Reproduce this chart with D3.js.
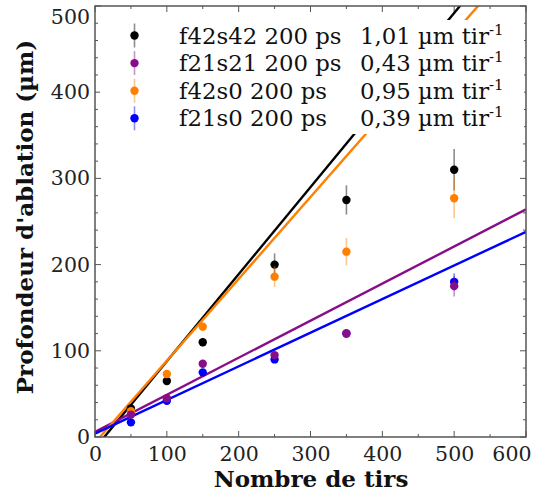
<!DOCTYPE html>
<html><head><meta charset="utf-8">
<script src="https://cdn.jsdelivr.net/npm/d3@7"></script>
<style>body{margin:0;background:#fff}</style>
</head><body>
<svg id="c" width="544" height="495"></svg>
<script>
const shots = [50, 100, 150, 250, 350, 500];
const names = ["f42s42 200 ps", "f21s21 200 ps", "f42s0 200 ps", "f21s0 200 ps"];
const rates = ["1,01", "0,43", "0,95", "0,39"];
const colors = ["#000000", "#880e88", "#ff8000", "#0000ff"];
const depthF42s42 = [33, 65, 110, 200, 275, 310];
const depthF21s21 = [26, 45, 85, 95, 120, 175];
const depthF42s0 = [30, 73, 128, 186, 215, 277];
const depthF21s0 = [17, 42, 75, 90, 120, 180];
const errF42s42 = [5, 4, 5, 13, 17, 24];
const errF21s21 = [3, 3, 3, 4, 5, 12];
const errF42s0 = [4, 4, 5, 12, 16, 23];
const errF21s0 = [3, 3, 3, 3, 4, 10];
const slopes = [1.01, 0.43, 0.95, 0.39];
const intercepts = [-13.1, 6, -6.6, 4];
const xTicks = [0, 100, 200, 300, 400, 500, 600];
const yTicks = [0, 100, 200, 300, 400, 500];

const depths = [depthF42s42, depthF21s21, depthF42s0, depthF21s0];
const errs = [errF42s42, errF21s21, errF42s0, errF21s0];

const svg = d3.select("#c");
const L = 95, R = 526, T = 6, B = 437;
const x = d3.scaleLinear().domain([0, 600]).range([L, R]);
const y = d3.scaleLinear().domain([0, 500]).range([B, T]);
const frameCol = "#555";
const serif = "'DejaVu Serif', serif";

svg.append("defs").append("clipPath").attr("id", "clip")
  .append("rect").attr("x", L).attr("y", T).attr("width", R - L).attr("height", B - T);

// ticks (inward on all sides)
const minorX = d3.range(0, 601, 50), minorY = d3.range(0, 501, 20);
const tk = svg.append("g").attr("stroke", frameCol).attr("stroke-width", 1);
minorX.forEach(v => {
  const len = v % 100 === 0 ? 6 : 3;
  tk.append("line").attr("x1", x(v)).attr("x2", x(v)).attr("y1", B).attr("y2", B - len);
  tk.append("line").attr("x1", x(v)).attr("x2", x(v)).attr("y1", T).attr("y2", T + len);
});
minorY.forEach(v => {
  const len = v % 100 === 0 ? 6 : 3;
  tk.append("line").attr("y1", y(v)).attr("y2", y(v)).attr("x1", L).attr("x2", L + len);
  tk.append("line").attr("y1", y(v)).attr("y2", y(v)).attr("x1", R).attr("x2", R - len);
});

// axes labels via d3 axes
const xAxis = svg.append("g").attr("transform", `translate(0,${B})`)
  .call(d3.axisBottom(x).tickValues(xTicks).tickSize(0).tickPadding(9).tickFormat(d3.format("d")));
const yAxis = svg.append("g").attr("transform", `translate(${L},0)`)
  .call(d3.axisLeft(y).tickValues(yTicks).tickSize(0).tickPadding(5).tickFormat(d3.format("d")));
[xAxis, yAxis].forEach(a => {
  a.select(".domain").remove();
  a.selectAll("text").attr("font-family", serif).attr("font-size", 20.5).attr("fill", "#222");
});
// keep edge labels inside the picture
xAxis.selectAll(".tick").filter(d => d === 600).select("text").attr("text-anchor", "end").attr("x", 5);
yAxis.selectAll(".tick").filter(d => d === 500).select("text").attr("dy", "0.85em");

// fit lines
const plot = svg.append("g").attr("clip-path", "url(#clip)");
slopes.forEach((s, i) => {
  plot.append("line")
    .attr("x1", x(0)).attr("y1", y(intercepts[i]))
    .attr("x2", x(600)).attr("y2", y(s * 600 + intercepts[i]))
    .attr("stroke", colors[i]).attr("stroke-width", 2.4);
});

// points with error bars
const order = [0, 2, 3, 1];
order.forEach(i => {
  const g = plot.append("g");
  shots.forEach((s, j) => {
    g.append("line").attr("x1", x(s)).attr("x2", x(s))
      .attr("y1", y(depths[i][j] - errs[i][j])).attr("y2", y(depths[i][j] + errs[i][j]))
      .attr("stroke", colors[i]).attr("stroke-opacity", 0.45).attr("stroke-width", 1.6);
    g.append("circle").attr("cx", x(s)).attr("cy", y(depths[i][j])).attr("r", 4.2)
      .attr("fill", colors[i]);
  });
});

// legend
const lg = svg.append("g");
lg.append("rect").attr("x", 100).attr("y", 20).attr("width", 424).attr("height", 114).attr("fill", "#fff");
names.forEach((n, i) => {
  const cy = 35.5 + i * 27.6;
  lg.append("line").attr("x1", 134.5).attr("x2", 134.5).attr("y1", cy - 12).attr("y2", cy + 12)
    .attr("stroke", colors[i]).attr("stroke-opacity", 0.45).attr("stroke-width", 1.6);
  lg.append("circle").attr("cx", 134.5).attr("cy", cy).attr("r", 4.2).attr("fill", colors[i]);
  lg.append("text").attr("x", 179).attr("y", cy + 8).attr("font-family", serif).attr("font-size", 22.8)
    .attr("fill", "#111").text(n);
  const t = lg.append("text").attr("x", 360).attr("y", cy + 8).attr("font-family", serif).attr("font-size", 22.8)
    .attr("fill", "#111");
  t.append("tspan").text(rates[i] + " µm tir");
  t.append("tspan").attr("dy", -9).attr("font-size", 15).text("-1");
});

// frame
svg.append("rect").attr("x", L).attr("y", T).attr("width", R - L).attr("height", B - T)
  .attr("fill", "none").attr("stroke", frameCol).attr("stroke-width", 1.5);

// titles
svg.append("text").attr("x", 311).attr("y", 487).attr("text-anchor", "middle")
  .attr("font-family", serif).attr("font-weight", "bold").attr("font-size", 23).attr("fill", "#111")
  .text("Nombre de tirs");
svg.append("text").attr("transform", `translate(33,217) rotate(-90)`).attr("text-anchor", "middle")
  .attr("font-family", serif).attr("font-weight", "bold").attr("font-size", 23).attr("fill", "#111")
  .text("Profondeur d'ablation (µm)");
</script>
</body></html>
